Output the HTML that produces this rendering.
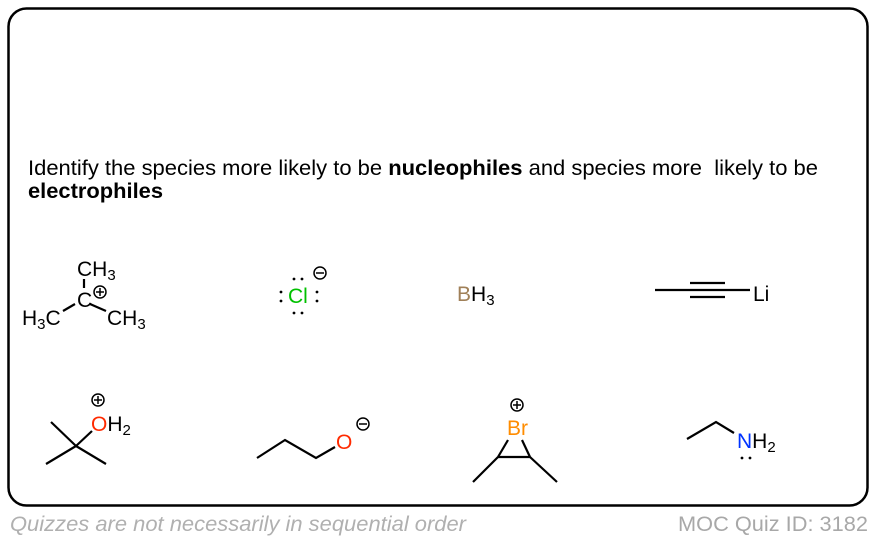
<!DOCTYPE html>
<html><head><meta charset="utf-8"><style>
html,body{margin:0;padding:0;background:#fff;}
svg{display:block;}
text{font-family:"Liberation Sans",Arial,sans-serif;}
</style></head><body>
<svg width="876" height="542" viewBox="0 0 876 542" xmlns="http://www.w3.org/2000/svg">
<rect x="8.5" y="8.5" width="859" height="497" rx="18" fill="#fff" stroke="#000" stroke-width="2.5"/>
<text x="28" y="175" font-size="21.5" textLength="790" lengthAdjust="spacingAndGlyphs" xml:space="preserve">Identify the species more likely to be <tspan font-weight="bold">nucleophiles</tspan> and species more  likely to be</text>
<text x="28" y="198" font-size="21.5" font-weight="bold" textLength="135" lengthAdjust="spacingAndGlyphs">electrophiles</text>
<text x="10" y="531" font-size="21.5" font-style="italic" fill="#b0b0b0" textLength="456" lengthAdjust="spacingAndGlyphs">Quizzes are not necessarily in sequential order</text>
<text x="678" y="531" font-size="21.5" fill="#a8a8a8" textLength="190" lengthAdjust="spacingAndGlyphs">MOC Quiz ID: 3182</text>
<g stroke="#000" stroke-width="2.2" fill="none" stroke-linecap="butt">
<line x1="84" y1="279" x2="84" y2="288"/>
<line x1="63" y1="311" x2="75" y2="304"/>
<line x1="90" y1="304" x2="106" y2="311"/>
<line x1="655" y1="290" x2="750" y2="290"/>
<line x1="690" y1="283" x2="725" y2="283"/>
<line x1="690" y1="297" x2="725" y2="297"/>
<line x1="76" y1="446" x2="51" y2="422"/>
<line x1="76" y1="446" x2="46" y2="464"/>
<line x1="76" y1="446" x2="106" y2="464"/>
<line x1="76" y1="446" x2="92" y2="431"/>
<polyline points="257,458 285,440 316,458 335,447"/>
<line x1="508" y1="440" x2="498" y2="457"/>
<line x1="522" y1="440" x2="530" y2="457"/>
<line x1="498" y1="457" x2="530" y2="457"/>
<line x1="498" y1="457" x2="473" y2="482"/>
<line x1="530" y1="457" x2="557" y2="482"/>
<polyline points="687,439 716,422 734,433"/>
</g>
<text x="77" y="276" font-size="21">CH<tspan font-size="15" dy="4">3</tspan></text>
<text x="77" y="307" font-size="21">C</text>
<text x="22" y="325" font-size="21">H<tspan font-size="15" dy="4">3</tspan><tspan dy="-4">C</tspan></text>
<text x="107" y="325" font-size="21">CH<tspan font-size="15" dy="4">3</tspan></text>
<g stroke="#000" stroke-width="1.5" fill="none">
<circle cx="100" cy="292" r="6"/><line x1="96" y1="292" x2="104" y2="292"/><line x1="100" y1="288" x2="100" y2="296"/>
<circle cx="320" cy="273" r="6"/><line x1="316" y1="273" x2="324" y2="273"/>
<circle cx="98" cy="400" r="6"/><line x1="94" y1="400" x2="102" y2="400"/><line x1="98" y1="396" x2="98" y2="404"/>
<circle cx="363" cy="424" r="6"/><line x1="359" y1="424" x2="367" y2="424"/>
<circle cx="517" cy="405" r="6"/><line x1="513" y1="405" x2="521" y2="405"/><line x1="517" y1="401" x2="517" y2="409"/>
</g>
<text x="288" y="303" font-size="21" fill="#00c000">Cl</text>
<g fill="#000">
<circle cx="281" cy="292" r="1.4"/><circle cx="281" cy="301" r="1.4"/>
<circle cx="317" cy="292" r="1.4"/><circle cx="317" cy="301" r="1.4"/>
<circle cx="294" cy="279" r="1.4"/><circle cx="302" cy="279" r="1.4"/>
<circle cx="294" cy="313" r="1.4"/><circle cx="302" cy="313" r="1.4"/>
<circle cx="742" cy="458" r="1.4"/><circle cx="750" cy="458" r="1.4"/>
</g>
<text x="457" y="301" font-size="21"><tspan fill="#a08058">B</tspan>H<tspan font-size="15" dy="4">3</tspan></text>
<text x="753" y="301" font-size="21">Li</text>
<text x="91" y="431" font-size="21"><tspan fill="#ff2a00">O</tspan>H<tspan font-size="15" dy="4">2</tspan></text>
<text x="336" y="449" font-size="21" fill="#ff2a00">O</text>
<text x="507" y="435" font-size="21" fill="#ff8c00">Br</text>
<text x="737" y="448" font-size="21"><tspan fill="#0033ff">N</tspan>H<tspan font-size="15" dy="4">2</tspan></text>
</svg>
</body></html>
